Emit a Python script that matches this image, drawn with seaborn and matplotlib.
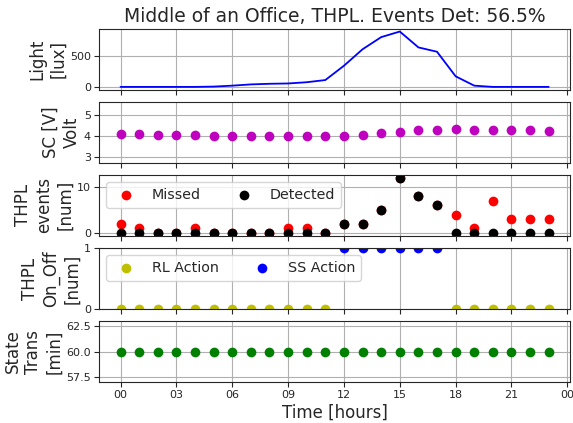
import matplotlib
matplotlib.use("Agg")
import matplotlib.pyplot as plt
import matplotlib.dates as mdates
import seaborn as sns
import pandas as pd
import numpy as np

hours = list(range(24))
light = [0, 0, 0, 0, 0, 5, 20, 40, 50, 55, 75, 110, 340, 605, 800, 890, 635, 565, 170, 20, 0, 0, 0, 0]
sc_volt = [4.10, 4.08, 4.06, 4.05, 4.03, 4.02, 4.00, 4.00, 3.99, 3.98, 3.98, 3.98, 4.00,
           4.06, 4.14, 4.20, 4.26, 4.30, 4.31, 4.30, 4.29, 4.27, 4.26, 4.25]
missed = [2, 1, 0, 0, 1, 0, 0, 0, 0, 1, 1, 0, 2, 2, 5, 12, 8, 6, 4, 1, 7, 3, 3, 3]
detected = [0, 0, 0, 0, 0, 0, 0, 0, 0, 0, 0, 0, 2, 2, 5, 12, 8, 6, 0, 0, 0, 0, 0, 0]
rl_hours = [0, 1, 2, 3, 4, 5, 6, 7, 8, 9, 10, 11, 18, 19, 20, 21, 22, 23]
rl_action = [0] * len(rl_hours)
ss_hours = [12, 13, 14, 15, 16, 17]
ss_action = [1] * len(ss_hours)
state_trans = [60] * 24

title = "Middle of an Office, THPL. Events Det: 56.5%"

sns.set_style("whitegrid", {
    "axes.edgecolor": "0.15",
    "grid.color": "#b0b0b0",
    "xtick.bottom": True,
    "ytick.left": True,
    "axes.linewidth": 1.0,
})
plt.rcParams["font.family"] = ["DejaVu Sans"]
plt.rcParams["xtick.direction"] = "out"
plt.rcParams["ytick.direction"] = "out"
plt.rcParams["xtick.major.size"] = 3.5
plt.rcParams["ytick.major.size"] = 3.5
plt.rcParams["xtick.major.pad"] = 2.5
plt.rcParams["ytick.major.pad"] = 2.5
plt.rcParams["xtick.color"] = "0.15"
plt.rcParams["ytick.color"] = "0.15"
plt.rcParams["grid.linewidth"] = 0.8

base = pd.Timestamp("2020-01-01")
t = [base + pd.Timedelta(hours=h) for h in hours]
t_rl = [base + pd.Timedelta(hours=h) for h in rl_hours]
t_ss = [base + pd.Timedelta(hours=h) for h in ss_hours]

fig, axes = plt.subplots(5, 1, sharex=True, figsize=(5.73, 4.23), dpi=100)
fig.subplots_adjust(left=0.173, right=0.995, top=0.932, bottom=0.097, hspace=0.2)

ms = 49
tick_fs = 8
lab_fs = 12
leg_fs = 10.3

ax = axes[0]
sns.lineplot(x=t, y=light, ax=ax, color="b", linewidth=1.3)
ax.set_ylabel("Light\n[lux]", fontsize=lab_fs, labelpad=2)
ax.set_title(title, fontsize=13.5, pad=5)

ax = axes[1]
sns.scatterplot(x=t, y=sc_volt, ax=ax, color="m", s=ms, linewidth=0)
ax.set_ylim(2.75, 5.6)
ax.set_yticks([3, 4, 5])
ax.set_ylabel("SC [V]\nVolt", fontsize=lab_fs, labelpad=2)

ax = axes[2]
sns.scatterplot(x=t, y=missed, ax=ax, color="r", s=ms, linewidth=0, label="Missed")
sns.scatterplot(x=t, y=detected, ax=ax, color="k", s=ms, linewidth=0, label="Detected")
ax.set_ylabel("THPL\nevents\n[num]", fontsize=lab_fs, labelpad=2)
ax.legend(loc="upper left", ncol=2, fontsize=leg_fs)

ax = axes[3]
sns.scatterplot(x=t_rl, y=rl_action, ax=ax, color="y", s=ms, linewidth=0, label="RL Action")
sns.scatterplot(x=t_ss, y=ss_action, ax=ax, color="b", s=ms, linewidth=0, label="SS Action")
ax.set_ylim(0, 1)
ax.set_yticks([0, 1])
ax.set_ylabel("THPL\nOn_Off\n[num]", fontsize=lab_fs, labelpad=2)
ax.legend(loc="upper left", ncol=2, fontsize=leg_fs)

ax = axes[4]
sns.scatterplot(x=t, y=state_trans, ax=ax, color="g", s=ms, linewidth=0)
ax.set_ylim(57, 63)
ax.set_yticks([57.5, 60.0, 62.5])
ax.set_ylabel("State\nTrans\n[min]", fontsize=lab_fs, labelpad=2)
ax.set_xlabel("Time [hours]", fontsize=12, labelpad=2.5)

for ax in axes:
    ax.tick_params(labelsize=tick_fs)
    for sp in ax.spines.values():
        sp.set_visible(True)
        sp.set_color("0.15")

axes[-1].xaxis.set_major_locator(mdates.HourLocator(byhour=range(0, 24, 3)))
axes[-1].xaxis.set_major_formatter(mdates.DateFormatter("%H"))
span = pd.Timedelta(hours=23)
axes[-1].set_xlim(base - 0.05 * span, base + pd.Timedelta(hours=23) + 0.05 * span)

fig.savefig("out.png", dpi=100)
